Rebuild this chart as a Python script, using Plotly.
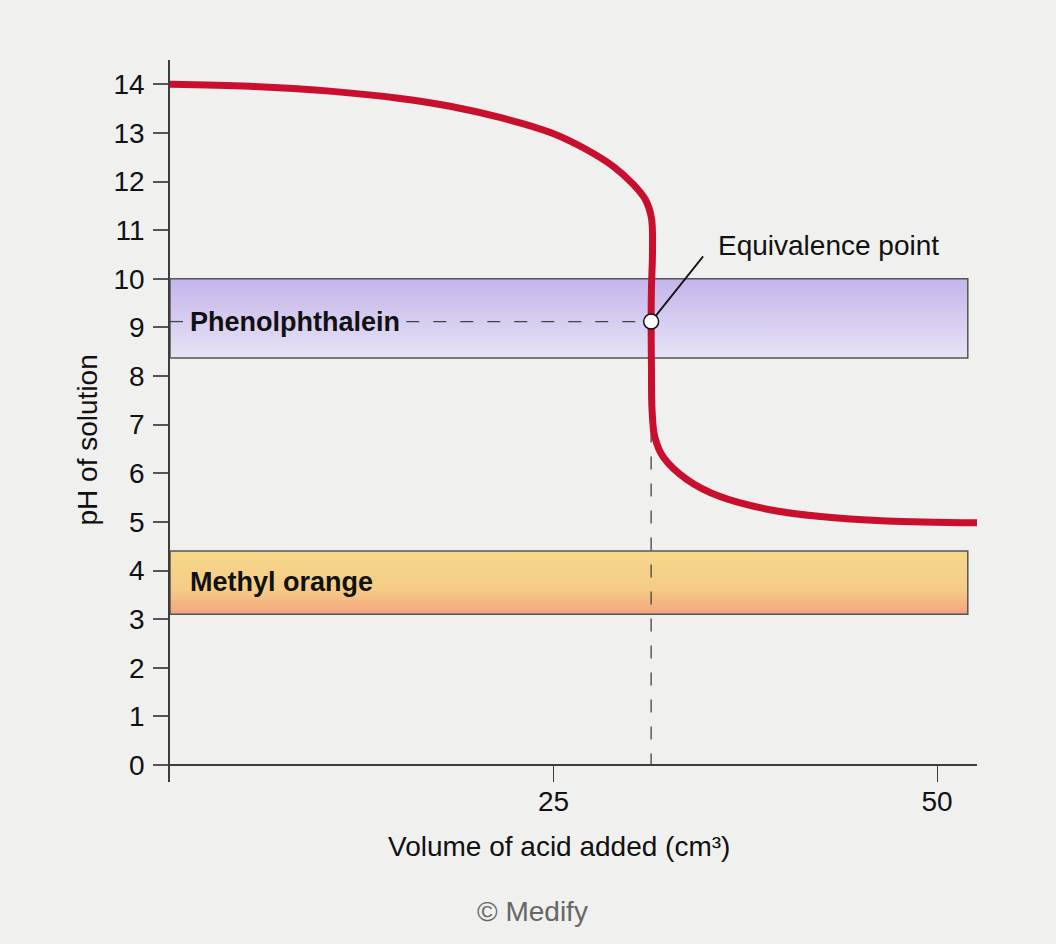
import plotly.graph_objects as go

# titration curve
vol = [0, 5.2, 10.4, 15.0, 18.25, 21.5, 24.8, 26.9, 28.9, 30.2, 31.0, 31.38, 31.45,
       31.38, 31.36, 31.38, 31.42, 31.6, 32.14, 33.7, 35.85, 39.1, 42.4, 46.7, 52.6]
ph = [14.0, 13.96, 13.86, 13.71, 13.55, 13.32, 13.01, 12.7, 12.31, 11.94, 11.62, 11.25, 10.6,
      9.8, 9.12, 8.2, 7.3, 6.75, 6.34, 5.87, 5.52, 5.25, 5.11, 5.02, 4.98]

# equivalence point
eq_vol = 31.36
eq_ph = 9.12

# indicator ranges
band_x = [0, 52.0]
phenol = [8.37, 10.0]
methyl = [3.1, 4.4]

x_ticks = [25, 50]
y_ticks = list(range(0, 15))

FONT = "Liberation Sans"
RED = "#c8102e"
DARK = "#3c3c3c"

fig = go.Figure()


def band(lo_hi, colors):
    lo, hi = lo_hi
    return go.Scatter(
        x=[band_x[0], band_x[1], band_x[1], band_x[0], band_x[0]],
        y=[lo, lo, hi, hi, lo],
        mode="lines", fill="toself",
        line=dict(color="#555555", width=1.5),
        fillgradient=dict(type="vertical", start=lo, stop=hi,
                          colorscale=colors),
        hoverinfo="skip", showlegend=False)


fig.add_trace(band(phenol, [[0, "#e8e2f6"], [1, "#c4b5ea"]]))
fig.add_trace(band(methyl, [[0, "#f2a47e"], [0.4, "#f5cc86"], [1, "#f5d88b"]]))

# dashed guide lines (gap left for the label)
lbl_left, lbl_right = 0.85, 15.4
dash = dict(color="#444444", width=1.3, dash="13px,14px")
fig.add_trace(go.Scatter(x=[0, lbl_left], y=[eq_ph, eq_ph], mode="lines",
                         line=dash, hoverinfo="skip", showlegend=False))
fig.add_trace(go.Scatter(x=[lbl_right, eq_vol], y=[eq_ph, eq_ph], mode="lines",
                         line=dash, hoverinfo="skip", showlegend=False))
fig.add_trace(go.Scatter(x=[eq_vol, eq_vol], y=[eq_ph, 0], mode="lines",
                         line=dash, hoverinfo="skip", showlegend=False))

# leader line to the label
fig.add_trace(go.Scatter(x=[eq_vol, 34.75], y=[eq_ph, 10.46], mode="lines",
                         line=dict(color="#111111", width=1.8),
                         hoverinfo="skip", showlegend=False))

fig.add_trace(go.Scatter(x=vol, y=ph, mode="lines",
                         line=dict(color=RED, width=7, shape="spline", smoothing=1.0),
                         hoverinfo="skip", showlegend=False))

fig.add_trace(go.Scatter(x=[eq_vol], y=[eq_ph], mode="markers",
                         marker=dict(size=15, color="white",
                                     line=dict(color="#111111", width=1.5)),
                         hoverinfo="skip", showlegend=False))

fig.add_annotation(x=1.17, y=eq_ph, text="<b>Phenolphthalein</b>", showarrow=False,
                   xanchor="left", yanchor="middle",
                   font=dict(family=FONT, size=27, color="#111111"))
fig.add_annotation(x=1.17, y=3.77, text="<b>Methyl orange</b>", showarrow=False,
                   xanchor="left", yanchor="middle",
                   font=dict(family=FONT, size=27, color="#111111"))
fig.add_annotation(x=35.6, y=10.68, text="Equivalence point", showarrow=False,
                   xanchor="left", yanchor="middle",
                   font=dict(family=FONT, size=28, color="#111111"))

fig.add_annotation(x=0.482, y=-0.089, xref="paper", yref="paper",
                   text="Volume of acid added (cm³)", showarrow=False,
                   xanchor="center", yanchor="middle",
                   font=dict(family=FONT, size=28, color="#111111"))
fig.add_annotation(x=-0.102, y=0.474, xref="paper", yref="paper",
                   text="pH of solution", showarrow=False, textangle=-90,
                   xanchor="center", yanchor="middle",
                   font=dict(family=FONT, size=28, color="#111111"))
fig.add_annotation(x=0.449, y=-0.18, xref="paper", yref="paper",
                   text="© Medify", showarrow=False,
                   xanchor="center", yanchor="middle",
                   font=dict(family=FONT, size=28, color="#666666"))

fig.update_xaxes(range=[0, 52.6], tickvals=x_ticks, ticks="inside", ticklen=17,
                 tickcolor=DARK, tickwidth=1.3, showline=False, showgrid=False,
                 zeroline=False, tickfont=dict(family=FONT, size=28, color="#111111"))
fig.update_yaxes(range=[-0.35, 14.5], tickvals=y_ticks, ticks="outside", ticklen=15,
                 tickcolor="#555555", tickwidth=1.5, showline=True, linecolor=DARK,
                 linewidth=1.5, showgrid=False, zeroline=True, zerolinecolor=DARK,
                 zerolinewidth=1.5, ticklabelstandoff=3,
                 tickfont=dict(family=FONT, size=28, color="#111111"))

fig.update_layout(width=1056, height=944,
                  margin=dict(l=170, r=79, t=60, b=162),
                  paper_bgcolor="#f0f0ef", plot_bgcolor="rgba(0,0,0,0)",
                  showlegend=False)

fig.write_html("out.html", config={"displayModeBar": False},
               post_script="document.body.style.margin='0';")
